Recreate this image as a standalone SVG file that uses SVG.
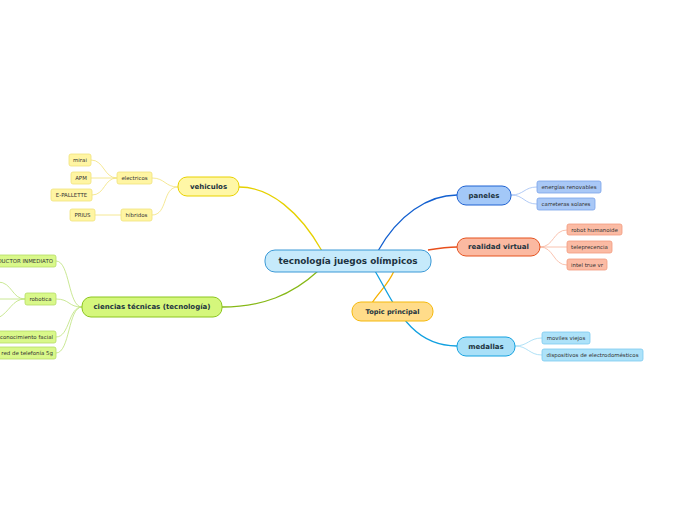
<svg xmlns="http://www.w3.org/2000/svg" width="696" height="520" viewBox="0 0 696 520">
<style>
text{font-family:"DejaVu Sans",Verdana,sans-serif;fill:#1c3340;dominant-baseline:central;text-anchor:middle}
.m{font-weight:bold;font-size:7px}
.s{font-size:5.45px;fill:#333}
.c{fill:none;stroke-width:1.3}
.t{fill:none;stroke-width:0.8}
</style>
<rect width="696" height="520" fill="#ffffff"/>
<g id="connectors">
<path class="c" stroke="#e6d100" d="M322,251 C300,212 270,187 239,187"/>
<path class="c" stroke="#86b816" d="M318,271 C292,295 262,307 222,307"/>
<path class="c" stroke="#1360d0" d="M378,251 C398,215 428,195 457,195"/>
<path class="c" stroke="#e84f1c" d="M428,250 C440,248 448,247 457,247"/>
<path class="c" stroke="#f5b000" d="M394,271 C388,285 378,293 372,303"/>
<path class="c" stroke="#10a0e0" d="M375,271 C395,305 410,346 457,346"/>
<g stroke="#f2e27a">
<path class="t" d="M178,187 C165,187 165,178 152,178"/>
<path class="t" d="M178,187 C162,187 168,215 152,215"/>
<path class="t" d="M117,178 C104,178 104,160 91,160"/>
<path class="t" d="M117,178 L91,178"/>
<path class="t" d="M117,178 C104,178 105,195 92,195"/>
<path class="t" d="M121,215 L95,215"/>
</g>
<g stroke="#bde27a">
<path class="t" d="M82,307 C68,307 70,261 56,261"/>
<path class="t" d="M82,307 C68,307 70,299 56,299"/>
<path class="t" d="M82,307 C68,307 70,337 56,337"/>
<path class="t" d="M82,307 C68,307 70,353 56,353"/>
<path class="t" d="M25,299 C12,299 12,282 -2,282"/>
<path class="t" d="M25,299 L-2,299"/>
<path class="t" d="M25,299 C12,299 10,312 -2,318"/>
</g>
<g stroke="#9dbdf2">
<path class="t" d="M511,195 C524,195 524,187 537,187"/>
<path class="t" d="M511,195 C524,195 524,204 537,204"/>
</g>
<g stroke="#f8b49c">
<path class="t" d="M540,247 C554,247 553,230 567,230"/>
<path class="t" d="M540,247 L567,247"/>
<path class="t" d="M540,247 C554,247 553,265 567,265"/>
</g>
<g stroke="#9cd9f4">
<path class="t" d="M515,346 C528,346 529,338 542,338"/>
<path class="t" d="M515,346 C528,346 529,355 542,355"/>
</g>
</g>
<g id="central">
<rect x="265" y="250" width="166" height="22" rx="10" fill="#c6eafb" stroke="#3b99d6" stroke-width="1"/>
<text x="348" y="261" style="font-weight:bold;font-size:8.9px">tecnología juegos olímpicos</text>
</g>
<g id="vehiculos">
<rect x="178" y="177" width="61" height="19" rx="9" fill="#fff7a6" stroke="#e9d200" stroke-width="1"/>
<text class="m" x="208.5" y="186.5">vehiculos</text>
</g>
<g id="electricos"><rect x="117" y="172" width="35" height="12" rx="2" fill="#fff5a3" stroke="#f0e27c" stroke-width="0.8"/><text class="s" x="134.5" y="178">electricos</text></g>
<g id="hibridos"><rect x="121" y="209" width="31" height="12" rx="2" fill="#fff5a3" stroke="#f0e27c" stroke-width="0.8"/><text class="s" x="136.5" y="215">híbridos</text></g>
<g id="mirai"><rect x="69" y="154" width="22" height="12" rx="2" fill="#fff5a3" stroke="#f0e27c" stroke-width="0.8"/><text class="s" x="80" y="160">mirai</text></g>
<g id="apm"><rect x="71" y="172" width="20" height="12" rx="2" fill="#fff5a3" stroke="#f0e27c" stroke-width="0.8"/><text class="s" x="81" y="178">APM</text></g>
<g id="epallette"><rect x="51" y="189" width="41" height="12" rx="2" fill="#fff5a3" stroke="#f0e27c" stroke-width="0.8"/><text class="s" x="71.5" y="195">E-PALLETTE</text></g>
<g id="prius"><rect x="70" y="209" width="25" height="12" rx="2" fill="#fff5a3" stroke="#f0e27c" stroke-width="0.8"/><text class="s" x="82.5" y="215">PRIUS</text></g>
<g id="ciencias">
<rect x="82" y="297" width="140" height="20" rx="9" fill="#d5f77c" stroke="#8cc61e" stroke-width="1"/>
<text class="m" x="152" y="307">ciencias técnicas (tecnología)</text>
</g>
<g id="traductor"><rect x="-30" y="255" width="86" height="12" rx="2" fill="#d9f88a" stroke="#b5dc66" stroke-width="0.8"/><text class="s" x="53" y="261" style="text-anchor:end">TRADUCTOR INMEDIATO</text></g>
<g id="robotica"><rect x="25" y="293" width="31" height="12" rx="2" fill="#d9f88a" stroke="#b5dc66" stroke-width="0.8"/><text class="s" x="40.5" y="299">robotica</text></g>
<g id="reconocimiento"><rect x="-20" y="331" width="76" height="12" rx="2" fill="#d9f88a" stroke="#b5dc66" stroke-width="0.8"/><text class="s" x="53" y="337" style="text-anchor:end">reconocimiento facial</text></g>
<g id="red5g"><rect x="-20" y="347" width="76" height="12" rx="2" fill="#d9f88a" stroke="#b5dc66" stroke-width="0.8"/><text class="s" x="53" y="353" style="text-anchor:end">red de telefonía 5g</text></g>
<g id="topic">
<rect x="352" y="302" width="81" height="19" rx="9" fill="#ffdc8a" stroke="#f5b90c" stroke-width="1"/>
<text class="m" x="392.5" y="311.5" style="font-size:6.6px">Topic principal</text>
</g>
<g id="paneles">
<rect x="457" y="186" width="54" height="19" rx="9" fill="#a3c8f8" stroke="#1f62d2" stroke-width="1"/>
<text class="m" x="484" y="195.5">paneles</text>
</g>
<g id="energias"><rect x="537" y="181" width="64" height="12" rx="2" fill="#a9c8f6" stroke="#7aa2ea" stroke-width="0.8"/><text class="s" x="569" y="187">energías renovables</text></g>
<g id="carreteras"><rect x="537" y="198" width="58" height="12" rx="2" fill="#a9c8f6" stroke="#7aa2ea" stroke-width="0.8"/><text class="s" x="566" y="204">carreteras solares</text></g>
<g id="realidad">
<rect x="457" y="238" width="83" height="18" rx="9" fill="#fbb9a1" stroke="#e5521f" stroke-width="1"/>
<text class="m" x="498.5" y="247">realidad virtual</text>
</g>
<g id="robot"><rect x="567" y="224" width="55" height="11" rx="2" fill="#fbbba4" stroke="#f39b7d" stroke-width="0.8"/><text class="s" x="594.5" y="229.5">robot humanoide</text></g>
<g id="tele"><rect x="567" y="241" width="45" height="12" rx="2" fill="#fbbba4" stroke="#f39b7d" stroke-width="0.8"/><text class="s" x="589.5" y="247">teleprecencia</text></g>
<g id="intel"><rect x="567" y="259" width="40" height="11" rx="2" fill="#fbbba4" stroke="#f39b7d" stroke-width="0.8"/><text class="s" x="587" y="264.5">intel true vr</text></g>
<g id="medallas">
<rect x="457" y="337" width="58" height="19" rx="9" fill="#a9e0f8" stroke="#15a2e0" stroke-width="1"/>
<text class="m" x="486" y="346.5">medallas</text>
</g>
<g id="moviles"><rect x="542" y="332" width="48" height="12" rx="2" fill="#ade2f9" stroke="#7ccaf0" stroke-width="0.8"/><text class="s" x="566" y="338">moviles viejos</text></g>
<g id="dispositivos"><rect x="542" y="349" width="101" height="12" rx="2" fill="#ade2f9" stroke="#7ccaf0" stroke-width="0.8"/><text class="s" x="592.5" y="355">dispositivos de electrodomésticos</text></g>
</svg>
